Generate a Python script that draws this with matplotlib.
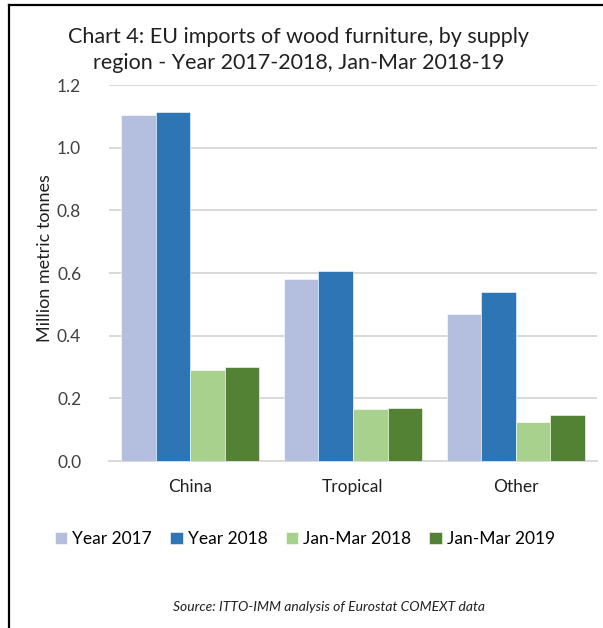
import matplotlib
matplotlib.use("Agg")
import matplotlib.pyplot as plt
from matplotlib.lines import Line2D
import numpy as np

plt.rcParams['font.family'] = ['Lato', 'DejaVu Sans']

categories = ["China", "Tropical", "Other"]
series_names = ["Year 2017", "Year 2018", "Jan-Mar 2018", "Jan-Mar 2019"]
year_2017 = [1.103, 0.581, 0.469]
year_2018 = [1.113, 0.606, 0.538]
jan_mar_2018 = [0.292, 0.166, 0.126]
jan_mar_2019 = [0.299, 0.169, 0.148]
yticks = [0.0, 0.2, 0.4, 0.6, 0.8, 1.0, 1.2]
colors = ["#B4BFDF", "#2E75B6", "#A9D18E", "#548235"]

fig = plt.figure(figsize=(6.03, 6.28), dpi=100)
ax = fig.add_axes([109/603, 1 - 461/628, (597-109)/603, (461-85)/628])

series = [year_2017, year_2018, jan_mar_2018, jan_mar_2019]
x = np.arange(len(categories))
bw = 0.849 / 4
for i, (vals, c, name) in enumerate(zip(series, colors, series_names)):
    ax.bar(x + (i - 1.5) * bw, vals, width=bw, color=c, edgecolor="white",
           linewidth=0.4, label=name, zorder=3)

ax.set_xlim(-0.5, 2.5)
ax.set_ylim(0, 1.2)
ax.set_yticks(yticks)
ax.set_yticklabels([f"{t:.1f}" for t in yticks], fontsize=12.5, color="#404040")
ax.set_xticks(x)
ax.set_xticklabels(categories, fontsize=12.5, color="#202020")
ax.tick_params(axis='y', length=0, pad=20)
ax.tick_params(axis='x', length=0, pad=13)
ax.grid(axis='y', color="#D9D9D9", linewidth=1.4, zorder=0)
for s in ["top", "right", "left"]:
    ax.spines[s].set_visible(False)
ax.spines["bottom"].set_color("#D9D9D9")
ax.spines["bottom"].set_linewidth(1.4)
ax.set_ylabel("Million metric tonnes", fontsize=13, color="#202020")
ax.yaxis.set_label_coords(-0.115, 0.54)

fig.text(299/603, 1 - 37/628, "Chart 4: EU imports of wood furniture, by supply",
         ha="center", va="center", fontsize=15.5, color="#202020")
fig.text(299/603, 1 - 63/628, "region - Year 2017-2018, Jan-Mar 2018-19",
         ha="center", va="center", fontsize=15.5, color="#202020")

handles, labels = ax.get_legend_handles_labels()
fig.legend(handles, labels, loc="center", bbox_to_anchor=(305/603, 1 - 539/628),
           ncol=4, frameon=False, fontsize=12.5, handlelength=0.7,
           handleheight=0.7, handletextpad=0.3, columnspacing=1.05)

fig.text(329/603, 1 - 607/628, "Source: ITTO-IMM analysis of Eurostat COMEXT data",
         ha="center", va="center", fontsize=10, style="italic", color="#202020")

# frame lines (top and left)
fig.add_artist(Line2D([9/603, 1.0], [1 - 5/628, 1 - 5/628], transform=fig.transFigure,
                      color="#000000", linewidth=1.6))
fig.add_artist(Line2D([9/603, 9/603], [1 - 5/628, 0], transform=fig.transFigure,
                      color="#000000", linewidth=1.6))

fig.savefig("out.png", dpi=100)
